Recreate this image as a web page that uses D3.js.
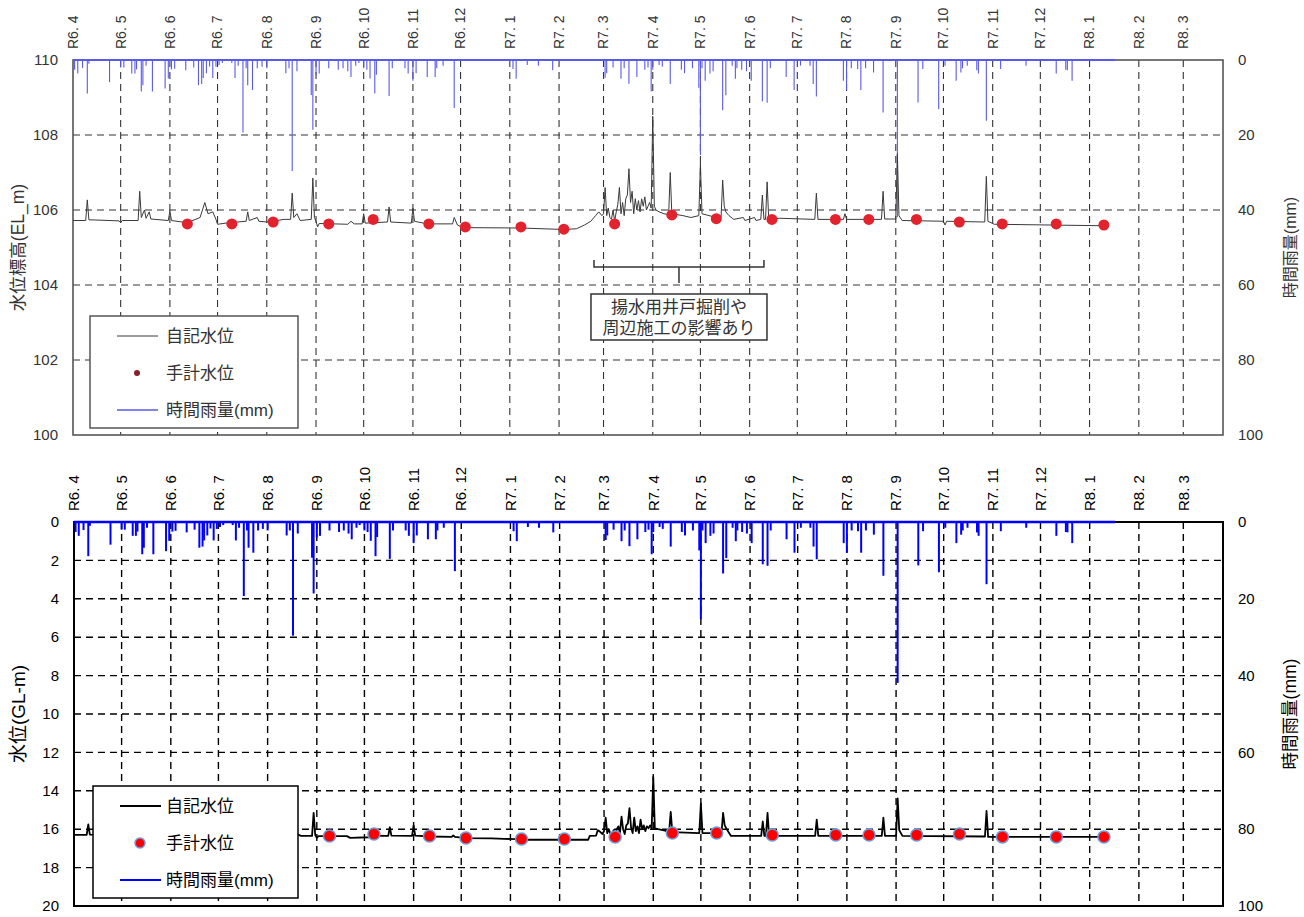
<!DOCTYPE html>
<html><head><meta charset="utf-8">
<script src="https://cdn.jsdelivr.net/npm/d3@7"></script>
<style>
body{margin:0;background:#fff}
svg{display:block}
text{font-family:"Liberation Sans",Arial,"Noto Sans CJK JP",sans-serif}
</style>
</head><body>
<svg id="c" width="1304" height="917"></svg>
<script>
// ---------------- DATA ----------------
const xStart = "2024-04-01", xEnd = "2026-03-26";
const monthDates = ["2024-04-01","2024-05-01","2024-06-01","2024-07-01","2024-08-01","2024-09-01","2024-10-01","2024-11-01","2024-12-01",
  "2025-01-01","2025-02-01","2025-03-01","2025-04-01","2025-05-01","2025-06-01","2025-07-01","2025-08-01","2025-09-01","2025-10-01",
  "2025-11-01","2025-12-01","2026-01-01","2026-02-01","2026-03-01"];
const monthLabels = ["R6. 4","R6. 5","R6. 6","R6. 7","R6. 8","R6. 9","R6. 10","R6. 11","R6. 12",
  "R7. 1","R7. 2","R7. 3","R7. 4","R7. 5","R7. 6","R7. 7","R7. 8","R7. 9","R7. 10",
  "R7. 11","R7. 12","R8. 1","R8. 2","R8. 3"];
const elTicks = [100,102,104,106,108,110];
const glTicks = [0,2,4,6,8,10,12,14,16,18,20];
const rainTicks = [0,20,40,60,80,100];

// hourly rainfall (mm), peaks
const rain = [
 ["2024-04-02",2.6],["2024-04-04",3.6],["2024-04-07",2.1],["2024-04-10",8.9],["2024-04-11",1.0],["2024-04-24",5.9],
 ["2024-05-01",2.0],["2024-05-03",2.0],["2024-05-08",3.6],["2024-05-10",3.6],["2024-05-11",2.5],["2024-05-14",8.4],["2024-05-15",6.7],
 ["2024-05-17",1.5],["2024-05-21",8.4],["2024-05-29",7.6],["2024-05-31",4.9],["2024-06-02",2.5],["2024-06-04",2.3],["2024-06-11",2.7],
 ["2024-06-16",2.0],["2024-06-19",6.7],["2024-06-21",6.4],["2024-06-22",4.8],["2024-06-24",3.5],["2024-06-26",1.7],["2024-06-28",4.8],
 ["2024-06-30",1.8],["2024-07-02",1.3],["2024-07-04",0.8],["2024-07-10",0.8],["2024-07-12",4.8],["2024-07-14",1.5],["2024-07-17",19.3],
 ["2024-07-19",2.2],["2024-07-20",6.7],["2024-07-23",8.0],["2024-07-26",2.2],["2024-07-29",1.8],["2024-08-01",2.2],["2024-08-13",3.5],
 ["2024-08-15",2.2],["2024-08-17",29.6],["2024-08-20",3.0],["2024-08-29",9.3],["2024-08-30",18.6],["2024-09-01",4.0],["2024-09-03",3.6],
 ["2024-09-09",2.2],["2024-09-15",2.6],["2024-09-18",2.2],["2024-09-21",3.0],["2024-09-23",4.5],["2024-09-26",1.5],["2024-09-28",0.8],
 ["2024-10-01",2.2],["2024-10-03",2.6],["2024-10-05",4.9],["2024-10-08",8.9],["2024-10-09",3.9],["2024-10-17",9.6],["2024-10-19",2.2],
 ["2024-10-27",2.2],["2024-10-29",3.6],["2024-11-01",5.5],["2024-11-03",3.5],["2024-11-10",4.5],["2024-11-15",4.5],["2024-11-16",2.2],
 ["2024-11-20",1.5],["2024-11-27",12.8],["2025-01-03",2.4],["2025-01-05",5.0],["2025-01-12",1.3],["2025-01-19",1.5],["2025-01-28",2.7],
 ["2025-03-02",4.7],["2025-03-03",3.5],["2025-03-07",2.0],["2025-03-12",5.0],["2025-03-14",2.2],["2025-03-17",6.3],["2025-03-22",4.5],
 ["2025-03-27",2.6],["2025-03-29",2.0],["2025-03-31",8.4],["2025-04-01",2.6],["2025-04-05",1.3],["2025-04-07",1.8],["2025-04-12",6.4],
 ["2025-04-19",2.6],["2025-04-21",3.5],["2025-04-26",2.2],["2025-04-30",7.4],["2025-05-01",25.3],["2025-05-02",2.2],["2025-05-04",5.5],
 ["2025-05-07",3.6],["2025-05-09",3.0],["2025-05-15",13.4],["2025-05-17",9.4],["2025-05-21",1.5],["2025-05-23",5.0],["2025-05-24",2.2],
 ["2025-05-27",2.6],["2025-05-30",3.0],["2025-06-02",5.5],["2025-06-09",11.0],["2025-06-12",11.4],["2025-06-14",2.2],["2025-06-24",4.5],
 ["2025-06-29",8.0],["2025-07-03",1.5],["2025-07-09",1.5],["2025-07-11",6.4],["2025-07-13",9.7],["2025-07-30",5.5],["2025-08-01",8.0],
 ["2025-08-04",2.2],["2025-08-08",2.4],["2025-08-10",8.0],["2025-08-13",2.2],["2025-08-18",3.3],["2025-08-24",14.0],["2025-09-02",41.9],
 ["2025-09-15",11.3],["2025-09-18",2.4],["2025-09-28",13.1],["2025-10-02",1.5],["2025-10-09",5.5],["2025-10-12",3.3],["2025-10-13",2.2],
 ["2025-10-16",1.5],["2025-10-22",2.7],["2025-10-23",3.6],["2025-10-28",16.2],["2025-11-06",2.4],["2025-11-22",1.5],["2025-12-11",3.6],
 ["2025-12-17",2.6],["2025-12-18",2.7],["2025-12-21",5.5]
];
const rainEnd = "2026-01-17";

// automatic water level, elevation (EL m) - upper chart
const levelEL = [
 ["2024-04-01",105.72],["2024-04-09",105.72],["2024-04-10",106.27],["2024-04-11",105.74],["2024-04-30",105.71],["2024-05-01",105.66],
 ["2024-05-02",105.72],["2024-05-12",105.72],["2024-05-13",106.5],["2024-05-14",105.8],["2024-05-16",106.0],["2024-05-17",105.78],
 ["2024-05-19",105.95],["2024-05-20",105.76],["2024-05-31",105.72],["2024-06-01",105.97],["2024-06-02",105.72],["2024-06-12",105.66],
 ["2024-06-20",105.8],["2024-06-23",106.2],["2024-06-25",105.9],["2024-06-28",105.95],["2024-06-30",105.75],["2024-07-01",105.62],
 ["2024-07-08",105.66],["2024-07-19",105.7],["2024-07-20",105.95],["2024-07-21",105.72],["2024-07-26",105.8],["2024-07-27",105.7],
 ["2024-08-01",105.68],["2024-08-12",105.75],["2024-08-16",105.75],["2024-08-17",106.45],["2024-08-18",105.8],["2024-08-20",105.9],
 ["2024-08-22",105.72],["2024-08-29",105.75],["2024-08-30",106.85],["2024-08-31",105.8],["2024-09-01",105.7],["2024-09-02",105.55],
 ["2024-09-03",105.64],["2024-09-21",105.62],["2024-09-23",105.7],["2024-09-25",105.63],["2024-09-30",105.63],["2024-10-01",105.9],
 ["2024-10-02",105.65],["2024-10-16",105.68],["2024-10-17",106.08],["2024-10-18",105.68],["2024-10-31",105.65],["2024-11-01",106.05],
 ["2024-11-02",105.7],["2024-11-10",105.63],["2024-11-26",105.63],["2024-11-27",105.8],["2024-11-29",105.6],["2024-12-01",105.56],
 ["2024-12-04",105.53],["2025-01-08",105.52],["2025-02-04",105.48],["2025-02-12",105.5],["2025-02-17",105.6],["2025-02-21",105.7],
 ["2025-02-24",105.85],["2025-02-26",105.95],["2025-02-28",105.85],
 ["2025-03-01",105.9],["2025-03-02",106.6],["2025-03-03",105.85],["2025-03-04",106.05],["2025-03-05",105.8],["2025-03-06",105.75],
 ["2025-03-07",106.0],["2025-03-08",105.7],["2025-03-09",105.95],["2025-03-10",106.15],["2025-03-11",106.6],["2025-03-12",105.9],
 ["2025-03-13",106.2],["2025-03-14",105.85],["2025-03-15",106.3],["2025-03-16",106.4],["2025-03-17",107.1],["2025-03-18",106.2],
 ["2025-03-19",106.5],["2025-03-20",105.9],["2025-03-21",106.3],["2025-03-22",106.0],["2025-03-23",106.25],["2025-03-24",105.95],
 ["2025-03-25",106.3],["2025-03-26",106.1],["2025-03-27",106.35],["2025-03-28",106.0],["2025-03-29",106.1],["2025-03-30",106.2],
 ["2025-03-31",106.05],["2025-04-01",108.5],["2025-04-02",106.1],["2025-04-03",106.0],["2025-04-05",105.95],["2025-04-08",105.9],
 ["2025-04-11",105.88],["2025-04-12",107.0],["2025-04-13",105.9],["2025-04-20",105.85],["2025-04-25",105.8],["2025-04-30",105.85],
 ["2025-05-01",107.25],["2025-05-02",105.9],["2025-05-11",105.8],["2025-05-14",105.8],["2025-05-15",106.8],["2025-05-16",106.1],
 ["2025-05-17",105.95],["2025-05-19",105.85],["2025-05-22",105.75],["2025-05-28",105.8],["2025-05-29",105.72],["2025-06-04",105.8],
 ["2025-06-05",105.72],["2025-06-08",105.75],["2025-06-09",106.4],["2025-06-10",105.75],["2025-06-11",105.75],["2025-06-12",106.75],
 ["2025-06-13",105.76],["2025-06-20",105.78],["2025-07-12",105.75],["2025-07-13",106.45],["2025-07-14",105.75],["2025-07-30",105.75],
 ["2025-07-31",105.9],["2025-08-01",105.75],["2025-08-23",105.75],["2025-08-24",106.5],["2025-08-25",105.76],["2025-09-01",105.76],
 ["2025-09-02",107.5],["2025-09-03",105.85],["2025-09-05",105.72],["2025-10-01",105.7],["2025-10-02",105.6],["2025-10-03",105.7],
 ["2025-10-27",105.68],["2025-10-28",106.9],["2025-10-29",105.7],["2025-11-02",105.62],["2026-01-10",105.58]
];

// automatic water level, depth (GL-m) - lower chart
const levelGL = [
 ["2024-04-01",16.3],["2024-04-09",16.3],["2024-04-10",15.75],["2024-04-11",16.28],["2024-05-12",16.3],["2024-05-13",15.5],
 ["2024-05-14",16.2],["2024-05-31",16.3],["2024-06-01",16.0],["2024-06-02",16.3],["2024-06-22",16.2],["2024-06-23",15.8],
 ["2024-06-24",16.2],["2024-07-01",16.35],["2024-07-19",16.3],["2024-07-20",16.0],["2024-07-21",16.3],["2024-08-16",16.3],
 ["2024-08-17",15.55],["2024-08-18",16.2],["2024-08-22",16.35],["2024-08-29",16.35],["2024-08-30",15.15],["2024-08-31",16.3],
 ["2024-09-01",16.45],["2024-09-02",16.36],["2024-09-20",16.36],["2024-09-22",16.45],["2024-10-04",16.42],["2024-10-05",16.33],
 ["2024-10-16",16.35],["2024-10-17",15.9],["2024-10-18",16.33],["2024-10-31",16.35],["2024-11-01",15.8],["2024-11-02",16.33],
 ["2024-11-12",16.38],["2024-11-25",16.4],["2024-11-26",16.32],["2024-11-27",16.4],["2024-12-04",16.46],["2024-12-20",16.48],
 ["2024-12-28",16.5],["2025-01-05",16.52],["2025-01-10",16.55],["2025-02-19",16.55],["2025-02-20",16.35],["2025-02-24",16.33],
 ["2025-02-25",16.05],["2025-02-26",16.1],["2025-02-28",16.25],
 ["2025-03-01",16.1],["2025-03-02",15.4],["2025-03-03",16.2],["2025-03-04",16.0],["2025-03-05",16.25],["2025-03-06",16.3],
 ["2025-03-07",16.05],["2025-03-08",16.3],["2025-03-09",16.0],["2025-03-10",15.85],["2025-03-11",16.2],["2025-03-12",15.35],
 ["2025-03-13",16.0],["2025-03-14",16.25],["2025-03-15",15.8],["2025-03-16",15.7],["2025-03-17",14.9],["2025-03-18",15.9],
 ["2025-03-19",16.2],["2025-03-20",15.4],["2025-03-21",16.1],["2025-03-22",15.85],["2025-03-23",16.2],["2025-03-24",15.5],
 ["2025-03-25",16.0],["2025-03-26",15.8],["2025-03-27",16.1],["2025-03-28",15.85],["2025-03-29",15.95],["2025-03-30",15.8],
 ["2025-03-31",15.95],["2025-04-01",13.28],["2025-04-02",15.95],["2025-04-04",16.0],["2025-04-07",16.05],["2025-04-11",16.12],
 ["2025-04-12",15.1],["2025-04-13",16.15],["2025-04-30",16.2],["2025-05-01",14.65],["2025-05-02",16.2],["2025-05-14",16.2],
 ["2025-05-15",15.15],["2025-05-16",15.8],["2025-05-18",16.1],["2025-05-20",16.35],["2025-06-08",16.35],["2025-06-09",15.6],
 ["2025-06-10",16.35],["2025-06-11",16.35],["2025-06-12",15.15],["2025-06-13",16.35],["2025-07-12",16.35],["2025-07-13",15.5],
 ["2025-07-14",16.35],["2025-08-23",16.35],["2025-08-24",15.4],["2025-08-25",16.35],["2025-09-01",16.35],["2025-09-02",14.4],
 ["2025-09-03",16.05],["2025-09-05",16.35],["2025-10-27",16.38],["2025-10-28",15.05],["2025-10-29",16.4],["2026-01-10",16.4]
];

// manual measurements
const manualDates = ["2024-06-12","2024-07-10","2024-08-05","2024-09-09","2024-10-07","2024-11-11","2024-12-04","2025-01-08",
  "2025-02-04","2025-03-08","2025-04-13","2025-05-11","2025-06-15","2025-07-25","2025-08-15","2025-09-14","2025-10-11",
  "2025-11-07","2025-12-11","2026-01-10"];
const manualEL = [105.63,105.63,105.68,105.63,105.75,105.63,105.55,105.55,105.49,105.63,105.87,105.77,105.75,105.75,105.75,
  105.75,105.68,105.63,105.63,105.6];
const manualGL = [16.35,16.35,16.3,16.35,16.25,16.35,16.46,16.51,16.51,16.4,16.2,16.2,16.3,16.3,16.3,16.3,16.25,16.4,16.4,16.4];

const legendLabels = ["自記水位","手計水位","時間雨量(mm)"];
const noteLines = ["揚水用井戸掘削や","周辺施工の影響あり"];
const noteRange = ["2025-02-23","2025-06-10"];

// ---------------- DRAW ----------------
const parse = d3.utcParse("%Y-%m-%d");
const svg = d3.select("#c");

function chart(o){
  const g = svg.append("g");
  const x = d3.scaleUtc().domain([parse(xStart), parse(xEnd)]).range([o.L, o.R]);
  const y = d3.scaleLinear().domain(o.yDomain).range([o.B, o.T]);
  const yr = d3.scaleLinear().domain([0,100]).range([o.T, o.B]);

  // grid
  g.selectAll(".hg").data(o.yTicks.filter(v => y(v) > o.T + 1 && y(v) < o.B - 1)).enter().append("line")
    .attr("x1", o.L).attr("x2", o.R).attr("y1", d => y(d)).attr("y2", d => y(d))
    .attr("stroke", o.gridColor).attr("stroke-width", o.gridW).attr("stroke-dasharray", "7,5");
  g.selectAll(".vg").data(monthDates.slice(1)).enter().append("line")
    .attr("x1", d => x(parse(d))).attr("x2", d => x(parse(d))).attr("y1", o.T).attr("y2", o.B)
    .attr("stroke", o.gridColor).attr("stroke-width", o.gridW).attr("stroke-dasharray", "7,5");

  // frame
  g.append("rect").attr("x", o.L).attr("y", o.T).attr("width", o.R - o.L).attr("height", o.B - o.T)
    .attr("fill", "none").attr("stroke", o.frameColor).attr("stroke-width", o.frameW);

  // rain
  g.append("line").attr("x1", x(parse(xStart))).attr("x2", x(parse(rainEnd)))
    .attr("y1", yr(0)).attr("y2", yr(0)).attr("stroke", o.rainColor).attr("stroke-width", o.rainBaseW);
  g.selectAll(".rain").data(rain).enter().append("line")
    .attr("x1", d => x(parse(d[0]))).attr("x2", d => x(parse(d[0])))
    .attr("y1", yr(0)).attr("y2", d => yr(d[1]))
    .attr("stroke", o.rainColor).attr("stroke-width", o.rainW);

  // level
  const line = d3.line().x(d => x(parse(d[0]))).y(d => y(d[1]));
  g.append("path").datum(o.level).attr("d", line).attr("fill", "none")
    .attr("stroke", o.lineColor).attr("stroke-width", o.lineW).attr("stroke-linejoin", "round");

  // manual dots
  g.selectAll(".dot").data(manualDates).enter().append("circle")
    .attr("cx", d => x(parse(d))).attr("cy", (d, i) => y(o.manual[i])).attr("r", o.dotR)
    .attr("fill", o.dotFill).attr("stroke", o.dotStroke).attr("stroke-width", o.dotStrokeW);

  // left ticks
  g.selectAll(".lt").data(o.yTicks).enter().append("text")
    .attr("x", o.L - 15).attr("y", d => y(d)).attr("dy", "0.35em").attr("text-anchor", "end")
    .attr("font-size", o.tickFs).attr("fill", o.textColor).text(d => d);
  // right ticks
  g.selectAll(".rt").data(rainTicks).enter().append("text")
    .attr("x", o.R + 15).attr("y", d => yr(d)).attr("dy", "0.35em").attr("text-anchor", "start")
    .attr("font-size", o.tickFs).attr("fill", o.textColor).text(d => d);
  // month labels
  g.selectAll(".ml").data(monthDates).enter().append("text")
    .attr("transform", d => `translate(${x(parse(d))},${o.T - 11}) rotate(-90)`)
    .attr("dy", "0.35em").attr("text-anchor", "start")
    .attr("font-size", o.monthFs).attr("fill", o.textColor)
    .text((d, i) => monthLabels[i]);
  // titles
  g.append("text").attr("transform", `translate(18,${(o.T + o.B) / 2}) rotate(-90)`)
    .attr("dy", "0.35em").attr("text-anchor", "middle").attr("font-size", o.titleFs)
    .attr("fill", o.textColor).text(o.yTitle);
  g.append("text").attr("transform", `translate(1290,${(o.T + o.B) / 2}) rotate(-90)`)
    .attr("dy", "0.35em").attr("text-anchor", "middle").attr("font-size", o.rTitleFs)
    .attr("fill", o.textColor).text("時間雨量(mm)");

  // legend
  const lg = g.append("g");
  lg.append("rect").attr("x", o.lg.x).attr("y", o.lg.y).attr("width", o.lg.w).attr("height", o.lg.h)
    .attr("fill", "#fff").attr("stroke", o.frameColor).attr("stroke-width", 1.5);
  const rows = [o.lg.y + 20, o.lg.y + 57, o.lg.y + 94];
  lg.append("line").attr("x1", o.lg.x + 27).attr("x2", o.lg.x + 68).attr("y1", rows[0]).attr("y2", rows[0])
    .attr("stroke", o.lineColor).attr("stroke-width", o.lineW);
  lg.append("circle").attr("cx", o.lg.x + 47).attr("cy", rows[1]).attr("r", o.lgDotR)
    .attr("fill", o.lgDotFill).attr("stroke", o.dotStroke).attr("stroke-width", o.dotStrokeW);
  lg.append("line").attr("x1", o.lg.x + 27).attr("x2", o.lg.x + 68).attr("y1", rows[2]).attr("y2", rows[2])
    .attr("stroke", o.rainColor).attr("stroke-width", o.lgRainW);
  lg.selectAll(".lt").data(legendLabels).enter().append("text")
    .attr("x", 166).attr("y", (d, i) => rows[i]).attr("dy", "0.38em")
    .attr("font-size", o.lgFs).attr("fill", o.textColor).text(d => d);
  return {g, x, y};
}

const upperChart = chart({
  L: 73, R: 1223, T: 60, B: 435, yDomain: [100, 110], yTicks: elTicks, level: levelEL, manual: manualEL,
  gridColor: "#333", gridW: 1.1, frameColor: "#555", frameW: 1.6,
  rainColor: "#5a5ae8", rainW: 1.1, rainBaseW: 1.8,
  lineColor: "#3a3a3a", lineW: 1,
  dotR: 5.5, dotFill: "#e2222d", dotStroke: "none", dotStrokeW: 0,
  tickFs: 15, monthFs: 14, titleFs: 17.5, rTitleFs: 16, textColor: "#333",
  yTitle: "水位標高(EL_m)",
  lg: {x: 90, y: 316, w: 208, h: 112}, lgDotR: 3, lgDotFill: "#8a1f2c", lgRainW: 1.5, lgFs: 17
});

const lowerChart = chart({
  L: 74, R: 1223, T: 522, B: 906, yDomain: [20, 0], yTicks: glTicks, level: levelGL, manual: manualGL,
  gridColor: "#000", gridW: 1.4, frameColor: "#000", frameW: 2,
  rainColor: "#0000ff", rainW: 2, rainBaseW: 2.6,
  lineColor: "#000", lineW: 1.8,
  dotR: 6, dotFill: "#ff0000", dotStroke: "#6b9bd7", dotStrokeW: 1.5,
  tickFs: 15, monthFs: 15, titleFs: 19, rTitleFs: 17.5, textColor: "#000",
  yTitle: "水位(GL-m)",
  lg: {x: 93, y: 786, w: 205, h: 112}, lgDotR: 5, lgDotFill: "#ff0000", lgRainW: 1.8, lgFs: 17
});

// annotation on upper chart
(function(){
  const x = upperChart.x;
  const x0 = x(parse(noteRange[0])), x1 = x(parse(noteRange[1])), xm = (x0 + x1) / 2;
  const a = svg.append("g").attr("stroke", "#333").attr("stroke-width", 1.5).attr("fill", "none");
  a.append("path").attr("d", `M${x0},260V267H${x1}V260`);
  a.append("path").attr("d", `M${xm},267V283`);
  a.append("rect").attr("x", xm - 88).attr("y", 294).attr("width", 176).attr("height", 46).attr("fill", "#fff");
  svg.selectAll(".note").data(noteLines).enter().append("text")
    .attr("x", xm).attr("y", (d, i) => 307 + i * 21).attr("dy", "0.36em").attr("text-anchor", "middle")
    .attr("font-size", 17).attr("fill", "#333").text(d => d);
})();
</script>
</body></html>
